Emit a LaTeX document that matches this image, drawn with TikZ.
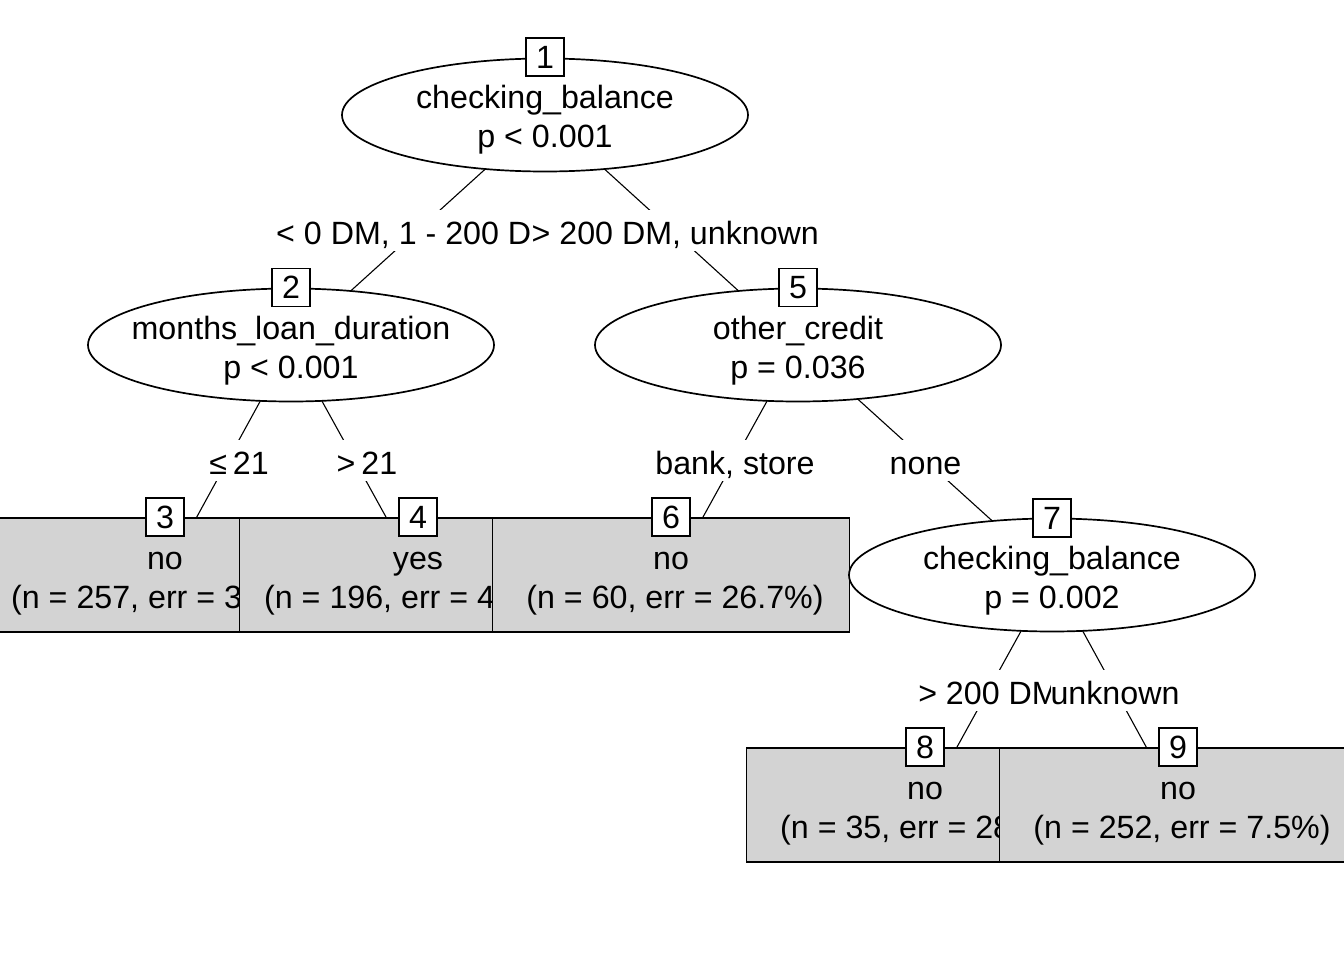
\documentclass[tikz,border=0pt]{standalone}
\usepackage{fontspec}
\setmainfont{Liberation Sans}
\usetikzlibrary{shapes.geometric,backgrounds}
\definecolor{leafgray}{RGB}{211,211,211}
\begin{document}
\begin{tikzpicture}[x=1pt,y=-1pt,
  txt/.style={font=\fontsize{32.2}{38}\selectfont, inner sep=0pt, anchor=base},
  split/.style={ellipse, draw, line width=1.7pt, fill=white, minimum width=406pt, minimum height=113pt, inner sep=0pt},
  leaf/.style={rectangle, draw, line width=1.7pt, fill=leafgray, minimum width=357pt, minimum height=114pt, inner sep=0pt},
  numbox/.style={rectangle, draw, line width=1.7pt, fill=white, minimum size=38pt, inner sep=0pt, font=\fontsize{32.2}{38}\selectfont},
  lab/.style={txt, fill=white, text height=34pt, text depth=7pt},
  edge/.style={draw, line width=1.1pt}]
\useasboundingbox (0,0) rectangle (1344,960);

% inner nodes
\node[split] (n1) at (545,115) {};
\node[txt] (t1a) at (545,109) {checking\_balance};
\node[txt] (t1b) at (545,148) {p < 0.001};
\node[numbox] (b1) at (545,57) {1};

\node[split] (n2) at (291,345) {};
\node[txt] (t2a) at (291,339) {months\_loan\_duration};
\node[txt] (t2b) at (291,378) {p < 0.001};
\node[numbox] (b2) at (291,287.5) {2};

\node[split] (n5) at (798,345) {};
\node[txt] (t5a) at (798,339) {other\_credit};
\node[txt] (t5b) at (798,378) {p = 0.036};
\node[numbox] (b5) at (798,287.5) {5};

% leaves 3, 4, 6
\node[leaf] (n3) at (165,575) {};
\node[txt] (t3a) at (165,569) {no};
\node[txt, anchor=base west] (t3b) at (11,608) {(n = 257, err = 3};
\node[numbox] (b3) at (n3.north) {3};

\node[leaf] (n4) at (418,575) {};
\node[txt] (t4a) at (418,569) {yes};
\node[txt, anchor=base west] (t4b) at (264,608) {(n = 196, err = 4};
\node[numbox] (b4) at (n4.north) {4};

\node[leaf] (n6) at (671,575) {};
\node[txt] (t6a) at (671,569) {no};
\node[txt] (t6b) at (675,608) {(n = 60, err = 26.7\%)};
\node[numbox] (b6) at (n6.north) {6};

\node[split] (n7) at (1052,575) {};
\node[txt] (t7a) at (1052,569) {checking\_balance};
\node[txt] (t7b) at (1052,608) {p = 0.002};
\node[numbox] (b7) at (1052,518) {7};

% leaves 8, 9
\node[leaf] (n8) at (925,805) {};
\node[txt] (t8a) at (925,799) {no};
\node[txt, anchor=base west] (t8b) at (780,838) {(n = 35, err = 28};
\node[numbox] (b8) at (n8.north) {8};

\node[leaf] (n9) at (1178,805) {};
\node[txt] (t9a) at (1178,799) {no};
\node[txt] (t9b) at (1182,838) {(n = 252, err = 7.5\%)};
\node[numbox] (b9) at (n9.north) {9};

% edge labels
\node[lab, anchor=base west] (l12) at (276,244) {< 0 DM, 1 - 200 D};
\node[lab, anchor=base west] (l15) at (l12.base east) {> 200 DM, unknown};
\node[lab] (l23) at (239,474) {≤\hspace{6pt}21};
\node[lab] (l24) at (367,474) {>\hspace{6pt}21};
\node[lab] (l56) at (735,474) {bank, store};
\node[lab] (l57) at (925.5,474) {none};
\node[lab] (l78) at (988.5,704) {> 200 DM};
\node[lab] (l79) at (1115,704) {unknown};

% connectors
\begin{pgfonlayer}{background}
\draw[edge] (n1.center) -- (n2.center);
\draw[edge] (n1.center) -- (n5.center);
\draw[edge] (n2.center) -- (n3.center);
\draw[edge] (n2.center) -- (n4.center);
\draw[edge] (n5.center) -- (n6.center);
\draw[edge] (n5.center) -- (n7.center);
\draw[edge] (n7.center) -- (n8.center);
\draw[edge] (n7.center) -- (n9.center);
\end{pgfonlayer}
\end{tikzpicture}
\end{document}
